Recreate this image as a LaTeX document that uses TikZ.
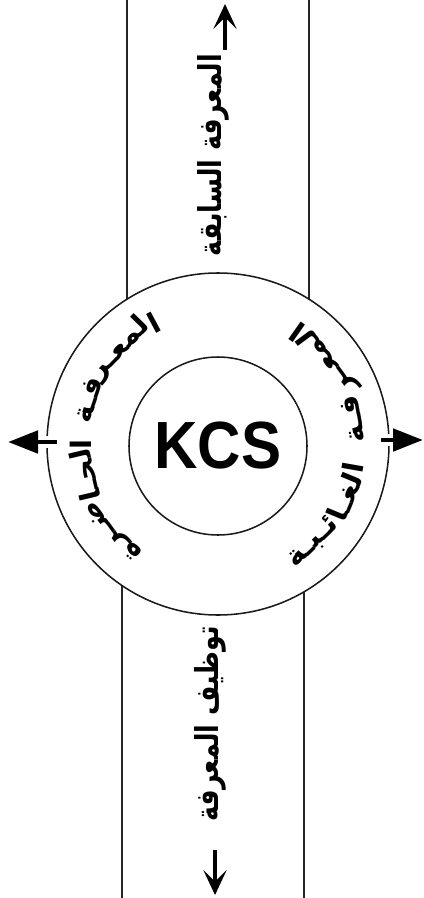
\documentclass[tikz,border=0pt]{standalone}
\usepackage{fontspec}
\setmainfont{Liberation Sans}
\newfontfamily\arabicfont[Script=Arabic]{DejaVu Sans}
\TeXXeTstate=1
\usetikzlibrary{arrows.meta}
\newcommand{\tagfont}{\arabicfont\bfseries\fontsize{24}{27}\selectfont}
\tikzset{
  band/.style={draw=black!85, line width=1.5pt},
  ring/.style={circle, draw=black!90, line width=1.3pt, fill=white, inner sep=0pt},
  tag/.style={font=\tagfont, inner sep=0pt},
  ttl/.style={font=\arabicfont\bfseries\fontsize{27}{30}\selectfont, inner sep=0pt},
  fat/.style={-{Triangle[length=0.9cm, width=0.66cm]}, line width=4.2pt},
  barb/.style={-{Stealth[length=0.75cm, width=0.7cm, inset=0.35cm]}, line width=3pt},
}
\newcommand{\ar}[1]{\scalebox{0.8}[1]{\beginR #1\endR}}
\newlength{\chunkw}
% width of a piece of ring text, taken outside the picture
\newcommand{\measure}[1]{\pgfinterruptpicture\settowidth{\chunkw}{\tagfont\beginR #1\endR}\global\chunkw=\chunkw\endpgfinterruptpicture}

\begin{document}
\begin{tikzpicture}[x=0.03cm, y=-0.03cm]
\useasboundingbox (0,0) rectangle (424,898);

% the band that runs through the rings
\draw[band] (127,0) -- (127,444);
\draw[band] (309,0) -- (309,444);
\draw[band] (122,444) -- (122,898);
\draw[band] (304,444) -- (304,898);

% rings
\coordinate (c) at (218,444);
\node[ring, minimum size=10.26cm] (outer) at (c) {};
\node[ring, minimum size=5.34cm] (inner) at (218,446) {\fontsize{57}{60}\selectfont\bfseries\scalebox{0.9}[1]{KCS}};

% words along the outer ring, cut where the letters do not join;
% the pieces are stretched to fill the arc, 116 to 235 on the left
\xdef\sumw{0}
\foreach \w in {ا, لمعـر, فـة, ا, لحـا, ضـر, ة} {
  \measure{\w}\pgfmathsetmacro\s{\sumw+\chunkw}\xdef\sumw{\s}
}
\pgfmathsetmacro\sx{112/57.2958*116.93/\sumw}
\foreach \w/\g [count=\i, remember=\nxt as \ang (initially 116)] in {ا/0, لمعـر/0, فـة/7, ا/0, لحـا/0, ضـر/0, ة/0} {
  \measure{\w}
  \pgfmathsetmacro\da{\chunkw*\sx*57.2958/116.93}
  \pgfmathsetmacro\mid{\ang+\da/2}
  \pgfmathsetmacro\nxt{\ang+\da+\g}
  \node[tag, rotate=\mid-90] (left-\i) at ([shift={(\mid:4.11cm)}]c) {\scalebox{\sx}[1]{\beginR\w\endR}};
}
% and 57 down to -59 on the right
\xdef\sumw{0}
\foreach \w in {ا, لمعـر, فـة, ا, لغـا, ئـبـة} {
  \measure{\w}\pgfmathsetmacro\s{\sumw+\chunkw}\xdef\sumw{\s}
}
\pgfmathsetmacro\sx{108/57.2958*116.93/\sumw}
\foreach \w/\g [count=\i, remember=\nxt as \ang (initially 57)] in {ا/0, لمعـر/0, فـة/8, ا/0, لغـا/0, ئـبـة/0} {
  \measure{\w}
  \pgfmathsetmacro\da{\chunkw*\sx*57.2958/116.93}
  \pgfmathsetmacro\mid{\ang-\da/2}
  \pgfmathsetmacro\nxt{\ang-\da-\g}
  \node[tag, rotate=\mid+90] (right-\i) at ([shift={(\mid:4.11cm)}]c) {\scalebox{\sx}[1]{\beginR\w\endR}};
}

% up and down the band
\node[ttl, rotate=90] (prior) at (213,155) {\ar{المعرفة السابقة}};
\node[ttl, rotate=90] (use) at (210,724) {\ar{توظيف المعرفة}};
\coordinate (ntail) at (225,50);
\coordinate (ntip) at (225,4);
\draw[barb] (ntail) -- (ntip);
\coordinate (stail) at (215,850);
\coordinate (stip) at (215,895);
\draw[barb] (stail) -- (stip);

% out of the rings
\coordinate (wtail) at (57,442);
\coordinate (wtip) at (8,442);
\draw[fat, preaction={draw=white, line width=10pt, -}] (wtail) -- (wtip);
\coordinate (etail) at (381,440);
\coordinate (etip) at (423,440);
\draw[fat, preaction={draw=white, line width=10pt, -}] (etail) -- (etip);
\end{tikzpicture}
\end{document}
